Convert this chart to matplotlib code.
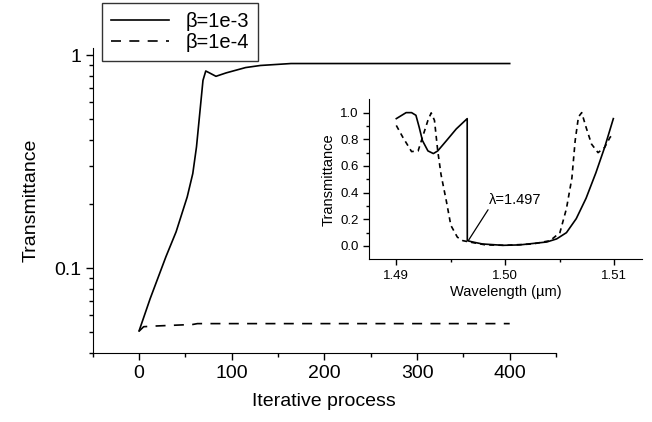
import matplotlib
matplotlib.use("Agg")
import matplotlib.pyplot as plt
from matplotlib.ticker import FixedLocator, MultipleLocator, NullFormatter, FixedFormatter

plt.rcParams['font.family'] = ['Liberation Sans', 'DejaVu Sans']

# main plot: transmittance vs iteration
iter_a = [0, 12, 29, 40, 52, 58, 62, 65.5, 69, 72, 76, 83, 94, 115, 131, 164, 400]
trans_a = [0.0506, 0.0718, 0.113, 0.148, 0.216, 0.278, 0.371, 0.532, 0.762, 0.843,
           0.826, 0.796, 0.826, 0.875, 0.895, 0.914, 0.914]
iter_b = [0, 5, 18, 58, 63, 400]
trans_b = [0.0505, 0.053, 0.0534, 0.0543, 0.0548, 0.0548]

# inset: spectrum
wl_a = [1.4900, 1.4909, 1.4914, 1.4918, 1.4921, 1.4924, 1.4929, 1.4934, 1.4938,
        1.4946, 1.4955, 1.4965, 1.49651, 1.4970, 1.4979, 1.4998, 1.5013, 1.5038,
        1.5047, 1.5056, 1.5065, 1.5074, 1.5083, 1.5091, 1.5099]
tr_a = [0.955, 1.0, 1.0, 0.98, 0.89, 0.79, 0.713, 0.693, 0.713,
        0.79, 0.878, 0.955, 0.04, 0.03, 0.015, 0.005, 0.008, 0.03,
        0.053, 0.10, 0.205, 0.358, 0.549, 0.739, 0.955]
wl_b = [1.4900, 1.4906, 1.4914, 1.4920, 1.4924, 1.4929, 1.4932, 1.4935, 1.4938,
        1.4941, 1.4946, 1.4950, 1.4956, 1.4961, 1.4967, 1.4982, 1.5000, 1.5025,
        1.5041, 1.5050, 1.5056, 1.5061, 1.5064, 1.5067, 1.5070, 1.5074, 1.5079,
        1.5085, 1.5091, 1.5096, 1.5099]
tr_b = [0.904, 0.815, 0.708, 0.713, 0.815, 0.942, 0.998, 0.942, 0.713,
        0.536, 0.332, 0.155, 0.066, 0.04, 0.03, 0.008, 0.005, 0.015,
        0.04, 0.10, 0.28, 0.51, 0.79, 0.968, 1.0, 0.89, 0.764,
        0.70, 0.739, 0.815, 0.84]

fig = plt.figure(figsize=(6.52, 4.22), dpi=100)
ax = fig.add_axes([0.1422, 0.1642, 0.7106, 0.7218])

l1, = ax.plot(iter_a, trans_a, color='black', lw=1.2, label='β=1e-3')
l2, = ax.plot(iter_b, trans_b, color='black', lw=1.2, ls=(0, (6, 5)), label='β=1e-4')
ax.set_yscale('log')
ax.set_xlim(-50, 450)
ax.set_ylim(0.04, 1.08)
ax.xaxis.set_major_locator(FixedLocator([0, 100, 200, 300, 400]))
ax.xaxis.set_minor_locator(MultipleLocator(50))
ax.yaxis.set_major_locator(FixedLocator([0.1, 1]))
ax.yaxis.set_major_formatter(FixedFormatter(['0.1', '1']))
ax.yaxis.set_minor_locator(FixedLocator([0.04, 0.05, 0.06, 0.07, 0.08, 0.09,
                                         0.2, 0.3, 0.4, 0.5, 0.6, 0.7, 0.8, 0.9]))
ax.yaxis.set_minor_formatter(NullFormatter())
for s in ['top', 'right']:
    ax.spines[s].set_visible(False)
ax.tick_params(which='major', length=5, width=1, labelsize=14, direction='out')
ax.tick_params(which='minor', length=3, width=1, direction='out')
ax.set_xlabel('Iterative process', fontsize=14, labelpad=8)
ax.set_ylabel('Transmittance', fontsize=14, labelpad=10)

leg = fig.legend(handles=[l1, l2], loc='upper left', bbox_to_anchor=(0.156, 0.993),
                 fontsize=14.5, frameon=True, fancybox=False, handlelength=2.9,
                 borderpad=0.45, labelspacing=0.1, handletextpad=0.8,
                 borderaxespad=0)
leg.get_frame().set_edgecolor('black')
leg.get_frame().set_linewidth(1.0)

# inset
ins = fig.add_axes([0.566, 0.3855, 0.4182, 0.3792])
ins.plot(wl_a, tr_a, color='black', lw=1.2)
ins.plot(wl_b, tr_b, color='black', lw=1.2, ls=(0, (3, 2.5)))
ins.set_xlim(1.4875, 1.5125)
ins.set_ylim(-0.1, 1.1)
ins.xaxis.set_major_locator(FixedLocator([1.49, 1.50, 1.51]))
ins.xaxis.set_major_formatter(FixedFormatter(['1.49', '1.50', '1.51']))
ins.xaxis.set_minor_locator(FixedLocator([1.495, 1.505]))
ins.yaxis.set_major_locator(FixedLocator([0.0, 0.2, 0.4, 0.6, 0.8, 1.0]))
ins.yaxis.set_major_formatter(FixedFormatter(['0.0', '0.2', '0.4', '0.6', '0.8', '1.0']))
ins.yaxis.set_minor_locator(FixedLocator([0.1, 0.3, 0.5, 0.7, 0.9]))
for s in ['top', 'right']:
    ins.spines[s].set_visible(False)
ins.patch.set_alpha(0)
ins.tick_params(which='major', length=4, width=1, labelsize=9.5, direction='out')
ins.tick_params(which='minor', length=2.5, width=1, direction='out')
ins.set_xlabel('Wavelength (µm)', fontsize=10.5, labelpad=2)
ins.set_ylabel('Transmittance', fontsize=10.5, labelpad=3)
ins.annotate('λ=1.497', xy=(1.4966, 0.04), xytext=(1.4985, 0.345),
             fontsize=10.5, va='center', ha='left',
             arrowprops=dict(arrowstyle='-', color='black', lw=0.9,
                             shrinkA=0, shrinkB=0, relpos=(0.05, 0.2)))

fig.savefig('out.png', dpi=100)
